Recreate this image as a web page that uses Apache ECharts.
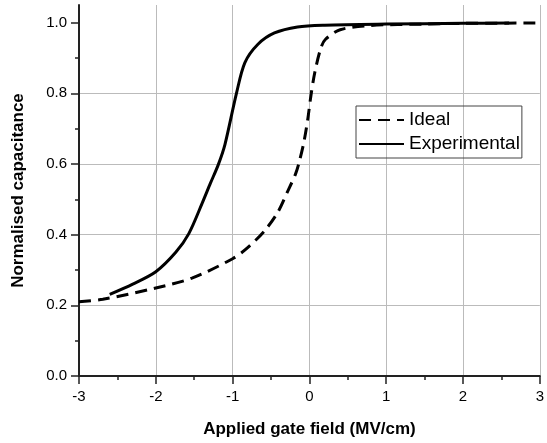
<!DOCTYPE html>
<html lang="en">
<head>
    <meta charset="UTF-8">
    <title>Normalised capacitance</title>
    <script type="text/javascript" src="https://cdn.jsdelivr.net/npm/echarts@6/dist/echarts.min.js"></script>
    <style>
        html, body { margin: 0; padding: 0; background: #fff; }
    </style>
</head>
<body>
<div id="main" style="width: 547px; height: 443px;"></div>

<script type="text/javascript">
    // applied gate field (MV/cm) and normalised capacitance
    var idealX = [-3, -2.69, -2.0, -1.53, -1.0, -0.8, -0.58, -0.41, -0.28, -0.18, -0.13, -0.07, -0.02, 0.02, 0.07, 0.15, 0.21, 0.4, 0.79, 1.5, 2.0, 3.0];
    var idealY = [0.21, 0.217, 0.249, 0.277, 0.332, 0.364, 0.412, 0.464, 0.524, 0.572, 0.608, 0.664, 0.729, 0.794, 0.859, 0.929, 0.953, 0.980, 0.992, 0.996, 0.998, 0.999];

    var expX = [-2.6, -2.3, -2.0, -1.74, -1.57, -1.40, -1.29, -1.185, -1.1, -0.95, -0.84, -0.67, -0.455, -0.155, 0.2, 1.0, 2.0, 2.6];
    var expY = [0.231, 0.26, 0.295, 0.35, 0.403, 0.487, 0.545, 0.599, 0.655, 0.8, 0.887, 0.939, 0.971, 0.988, 0.993, 0.996, 0.998, 0.999];

    var yTicks = [0, 0.2, 0.4, 0.6, 0.8, 1.0];
    var yMinorTicks = [0.1, 0.3, 0.5, 0.7, 0.9];

    function pairs(xs, ys) {
        var out = [];
        for (var i = 0; i < xs.length; i++) {
            out.push([xs[i], ys[i]]);
        }
        return out;
    }

    var myChart = echarts.init(document.getElementById('main'));
    var fontFam = 'Liberation Sans, Arial, sans-serif';

    myChart.setOption({
        animation: false,
        textStyle: { fontFamily: fontFam },
        grid: { left: 79, right: 2, top: 5, bottom: 62 },
        legend: {
            data: ['Ideal', 'Experimental'],
            orient: 'vertical',
            left: 356,
            top: 106,
            padding: [3, 2, 3, 2],
            itemGap: 2,
            itemWidth: 45,
            itemHeight: 14,
            itemStyle: { opacity: 0 },
            borderColor: '#444',
            borderWidth: 1,
            textStyle: { fontSize: 19, color: '#000', fontFamily: fontFam, lineHeight: 22 }
        },
        xAxis: {
            type: 'value',
            min: -3,
            max: 3,
            interval: 1,
            name: 'Applied gate field (MV/cm)',
            nameLocation: 'middle',
            nameGap: 45,
            nameTextStyle: { fontSize: 17, fontWeight: 'bold', color: '#000' },
            axisLine: { onZero: false, lineStyle: { color: '#222', width: 2 } },
            axisTick: { length: 8, lineStyle: { color: '#222', width: 1.5 } },
            minorTick: { show: true, splitNumber: 2, length: 4, lineStyle: { color: '#222', width: 1.5 } },
            axisLabel: { fontSize: 15, color: '#000', margin: 13 },
            splitLine: { show: true, lineStyle: { color: '#bbb', width: 1 } }
        },
        yAxis: [{
            type: 'value',
            min: 0,
            max: 1.05,
            interval: 0.2,
            name: 'Normalised capacitance',
            nameLocation: 'middle',
            nameGap: 52,
            nameTextStyle: { fontSize: 17, fontWeight: 'bold', color: '#000' },
            axisLine: { show: true, onZero: false, lineStyle: { color: '#222', width: 2 } },
            axisTick: { show: true, length: 8, customValues: yTicks, lineStyle: { color: '#222', width: 1.5 } },
            axisLabel: {
                fontSize: 15, color: '#000', margin: 12, customValues: yTicks,
                formatter: function (v) { return v.toFixed(1); }
            },
            splitLine: { show: true, showMaxLine: false, lineStyle: { color: '#bbb', width: 1 } }
        }, {
            // second axis on the same spot, only for the minor ticks
            type: 'value',
            position: 'left',
            offset: 0,
            min: 0,
            max: 1.05,
            axisLine: { show: false, onZero: false },
            axisTick: { show: true, length: 4, customValues: yMinorTicks, lineStyle: { color: '#222', width: 1.5 } },
            axisLabel: { show: false },
            splitLine: { show: false }
        }],
        series: [{
            name: 'Ideal',
            type: 'line',
            data: pairs(idealX, idealY),
            smooth: 0.3,
            symbol: 'none',
            lineStyle: { color: '#000', width: 3, type: [12, 7] },
            itemStyle: { color: '#000' }
        }, {
            name: 'Experimental',
            type: 'line',
            data: pairs(expX, expY),
            smooth: 0.3,
            symbol: 'none',
            lineStyle: { color: '#000', width: 3 },
            itemStyle: { color: '#000' }
        }]
    });
</script>
</body>
</html>
